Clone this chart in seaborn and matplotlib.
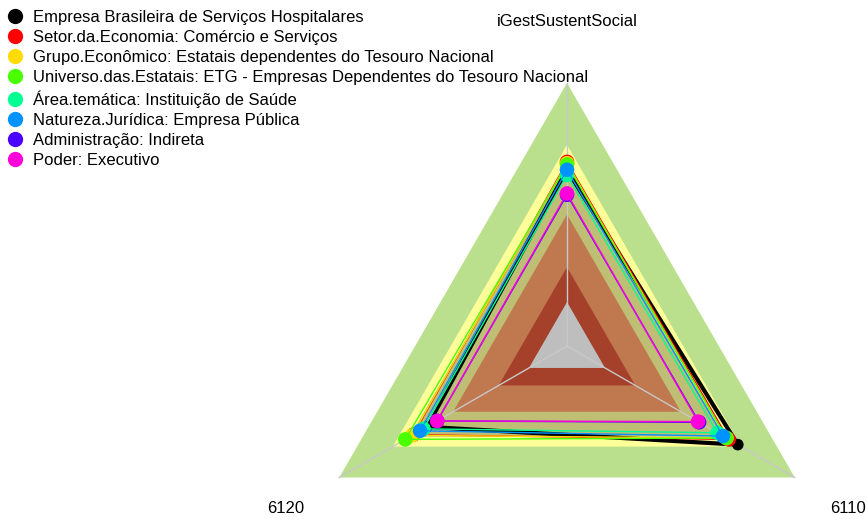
import matplotlib
matplotlib.use('Agg')
import matplotlib.pyplot as plt
from matplotlib.lines import Line2D
import numpy as np
import pandas as pd
import seaborn as sns

# eixos do radar (sentido horário a partir do topo)
axes_labels = ['iGestSustentSocial', '6110', '6120']

series_names = [
    'Empresa Brasileira de Serviços Hospitalares',
    'Setor.da.Economia: Comércio e Serviços',
    'Grupo.Econômico: Estatais dependentes do Tesouro Nacional',
    'Universo.das.Estatais: ETG - Empresas Dependentes do Tesouro Nacional',
    'Área.temática: Instituição de Saúde',
    'Natureza.Jurídica: Empresa Pública',
    'Administração: Indireta',
    'Poder: Executivo',
]
series_colors = ['#000000', '#FF0000', '#FFDB00', '#49FF00',
                 '#00FF92', '#0092FF', '#4900FF', '#FF00DB']

# valores (escala relativa 0-1 do radar)
v_social = [0.67, 0.70, 0.695, 0.69, 0.65, 0.67, 0.575, 0.58]
v_6110 = [0.75, 0.71, 0.70, 0.70, 0.66, 0.685, 0.58, 0.575]
v_6120 = [0.615, 0.675, 0.68, 0.71, 0.63, 0.645, 0.57, 0.57]

# faixas de fundo
band_levels = [1.0, 0.765, 0.69, 0.50, 0.30, 0.167]
band_colors = ['#BAE08D', '#FFFF99', '#BEBE74', '#C0784E', '#A5412B', '#BEBEBE']

angles = np.deg2rad([90, -30, 210])

rows = []
for i, name in enumerate(series_names):
    vals = [v_social[i], v_6110[i], v_6120[i]]
    for k in range(4):
        j = k % 3
        rows.append({'serie': name, 'ordem': k, 'eixo': axes_labels[j],
                     'x': vals[j] * np.cos(angles[j]),
                     'y': vals[j] * np.sin(angles[j])})
df = pd.DataFrame(rows)

plt.rcParams['font.family'] = ['Liberation Sans', 'DejaVu Sans']

fig = plt.figure(figsize=(8.67, 5.19), dpi=100)
ax = fig.add_axes([0, 0, 1, 1])
R = 263.0
ax.set_xlim(-567 / R, (867 - 567) / R)
ax.set_ylim(-(519 - 346) / R, 346 / R)
ax.axis('off')

# faixas
for lev, col in zip(band_levels, band_colors):
    ax.fill(lev * np.cos(angles), lev * np.sin(angles), color=col, lw=0, zorder=1)

# linhas radiais
for a in angles:
    ax.plot([0, np.cos(a)], [0, np.sin(a)], color='#C8C8C8', lw=1, zorder=2)

# séries
for i, name in enumerate(series_names):
    d = df[df['serie'] == name]
    lw = 3 if i == 0 else 1
    sns.lineplot(data=d, x='x', y='y', sort=False, estimator=None,
                 color=series_colors[i], lw=lw, ax=ax, zorder=3 + i)
    pts = d[d['ordem'] < 3]
    ms = 70 if i == 0 else 110
    sns.scatterplot(data=pts, x='x', y='y', color=series_colors[i], s=ms,
                    edgecolor='none', ax=ax, zorder=3 + i, legend=False)

# rótulos dos eixos
lab_r = 1.235
for a, lab in zip(angles, axes_labels):
    ax.text(lab_r * np.cos(a), lab_r * np.sin(a), lab, ha='center', va='center',
            fontsize=12, color='#000000')

handles = [Line2D([], [], marker='o', linestyle='none', markersize=11,
                  markerfacecolor=c, markeredgecolor='none') for c in series_colors]
ax.legend(handles, series_names, loc='upper left',
          bbox_to_anchor=(0.0, 1.0 - 3.0 / 519),
          frameon=False, fontsize=12, handletextpad=0.57, labelspacing=0.31,
          borderaxespad=0.0, handlelength=1.0)

fig.savefig('out.png', dpi=100)
